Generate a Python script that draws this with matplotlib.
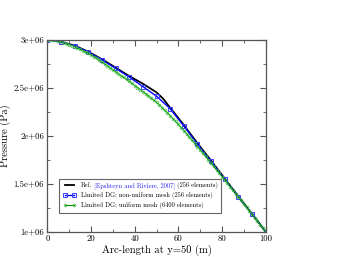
import matplotlib
matplotlib.use("Agg")
import matplotlib.pyplot as plt
from matplotlib.ticker import FixedLocator, FixedFormatter, MultipleLocator
from matplotlib.offsetbox import TextArea, HPacker

plt.rcParams['font.family'] = 'serif'
plt.rcParams['font.serif'] = ['cmr10', 'DejaVu Serif']
plt.rcParams['mathtext.fontset'] = 'cm'
plt.rcParams['axes.unicode_minus'] = False
plt.rcParams['axes.formatter.use_mathtext'] = True

# Reference solution (Epshteyn and Riviere, 2007)
ref_x = [0, 6.25, 12.5, 18.75, 25, 31.25, 37.5, 43.75, 50, 53, 56.25,
         62.5, 68.75, 75, 81.25, 87.5, 93.75, 100]
ref_p = [3.0e6, 2.977e6, 2.937e6, 2.873e6, 2.795e6, 2.707e6, 2.62e6, 2.54e6,
         2.45e6, 2.385e6, 2.29e6, 2.11e6, 1.92e6, 1.74e6, 1.553e6, 1.366e6,
         1.185e6, 1.0e6]

# Limited DG, non-uniform mesh (256 elements)
nu_x = [0, 6.25, 12.5, 18.75, 25, 31.25, 37.5, 43.75, 50, 56.25,
        62.5, 68.75, 75, 81.25, 87.5, 93.75, 100]
nu_p = [3.0e6, 2.975e6, 2.935e6, 2.87e6, 2.79e6, 2.70e6, 2.61e6, 2.51e6,
        2.41e6, 2.28e6, 2.10e6, 1.91e6, 1.73e6, 1.545e6, 1.36e6, 1.185e6, 1.0e6]

# Limited DG, uniform mesh (6400 elements)
un_x = [0, 1.25, 2.5, 3.75, 5, 6.25, 7.5, 8.75, 10, 11.25, 12.5, 13.75, 15,
        16.25, 17.5, 18.75, 20, 21.25, 22.5, 23.75, 25, 26.25, 27.5, 28.75,
        30, 31.25, 32.5, 33.75, 35, 36.25, 37.5, 38.75, 40, 41.25, 42.5,
        43.75, 45, 46.25, 47.5, 48.75, 50, 51.25, 52.5, 53.75, 55, 56.25,
        57.5, 58.75, 60, 61.25, 62.5, 63.75, 65, 66.25, 67.5, 68.75, 70,
        71.25, 72.5, 73.75, 75, 76.25, 77.5, 78.75, 80, 81.25, 82.5, 83.75,
        85, 86.25, 87.5, 88.75, 90, 91.25, 92.5, 93.75, 95, 96.25, 97.5,
        98.75, 100]
un_p = [3.000e6, 2.999e6, 2.995e6, 2.991e6, 2.985e6, 2.977e6, 2.968e6,
        2.958e6, 2.948e6, 2.937e6, 2.925e6, 2.912e6, 2.898e6, 2.884e6,
        2.870e6, 2.855e6, 2.840e6, 2.822e6, 2.803e6, 2.784e6, 2.765e6,
        2.745e6, 2.725e6, 2.705e6, 2.685e6, 2.665e6, 2.645e6, 2.625e6,
        2.605e6, 2.585e6, 2.565e6, 2.543e6, 2.521e6, 2.500e6, 2.479e6,
        2.458e6, 2.436e6, 2.414e6, 2.391e6, 2.368e6, 2.345e6, 2.319e6,
        2.292e6, 2.264e6, 2.236e6, 2.207e6, 2.177e6, 2.147e6, 2.116e6,
        2.084e6, 2.052e6, 2.019e6, 1.986e6, 1.953e6, 1.919e6, 1.885e6,
        1.851e6, 1.817e6, 1.782e6, 1.748e6, 1.713e6, 1.678e6, 1.643e6,
        1.608e6, 1.573e6, 1.538e6, 1.502e6, 1.467e6, 1.431e6, 1.396e6,
        1.360e6, 1.324e6, 1.288e6, 1.252e6, 1.216e6, 1.180e6, 1.144e6,
        1.108e6, 1.072e6, 1.036e6, 1.000e6]

ytick_vals = [1.0e6, 1.5e6, 2.0e6, 2.5e6, 3.0e6]
ytick_labels = ['1e+06', '1.5e+06', '2e+06', '2.5e+06', '3e+06']
xtick_vals = [0, 20, 40, 60, 80, 100]
xtick_labels = ['0', '20', '40', '60', '80', '100']

fig = plt.figure(figsize=(3.49, 2.57), dpi=100)
ax = fig.add_axes([0.136, 0.099, 0.625, 0.747])

ax.plot(ref_x, ref_p, color='black', lw=1.3, label='Ref.')
ax.plot(nu_x, nu_p, color='#0000ff', lw=1.0, marker='s', markersize=3.4,
        markerfacecolor='none', markeredgecolor='#3b3bff', markeredgewidth=0.7,
        label='Limited DG; non-uniform mesh (256 elements)')
ax.plot(un_x, un_p, color='#008a00', lw=0.8, marker='o', markersize=2.0,
        markerfacecolor='none', markeredgecolor='#44c044', markeredgewidth=0.5,
        label='Limited DG; uniform mesh (6400 elements)')

ax.set_xlim(0, 100)
ax.set_ylim(1.0e6, 3.0e6)
ax.xaxis.set_major_locator(FixedLocator(xtick_vals))
ax.xaxis.set_major_formatter(FixedFormatter(xtick_labels))
ax.xaxis.set_minor_locator(MultipleLocator(10))
ax.yaxis.set_major_locator(FixedLocator(ytick_vals))
ax.yaxis.set_major_formatter(FixedFormatter(ytick_labels))
ax.yaxis.set_minor_locator(MultipleLocator(0.25e6))

ax.tick_params(which='both', direction='in', top=True, right=True,
               colors='#555555', labelcolor='black', labelsize=6.3, pad=2.5)
ax.tick_params(which='major', length=4, width=0.8)
ax.tick_params(which='minor', length=2, width=0.6)
for s in ax.spines.values():
    s.set_color('#555555')
    s.set_linewidth(0.9)

ax.set_xlabel('Arc-length at y=50 (m)', fontsize=7.6, labelpad=1)
ax.set_ylabel('Pressure (Pa)', fontsize=7.6)
ax.yaxis.set_label_coords(-0.165, 0.5)

leg = ax.legend(loc='lower left', bbox_to_anchor=(0.04, 0.08), fontsize=4.6,
                frameon=True, fancybox=False, edgecolor='#666666',
                framealpha=1, handlelength=2.0, handletextpad=0.8,
                borderpad=0.55, labelspacing=0.5, numpoints=2)
leg.get_frame().set_linewidth(0.8)

# Build mixed-colour first legend label
item = leg._legend_handle_box.get_children()[0].get_children()[0]
children = item.get_children()
tp = dict(fontsize=4.6, family='serif')
first = HPacker(children=[
    TextArea('Ref.', textprops=dict(color='black', **tp)),
    TextArea(' [Epshteyn and Riviere, 2007]', textprops=dict(color='#2222ee', **tp)),
    TextArea(' (256 elements)', textprops=dict(color='black', **tp)),
], sep=0, pad=0, align='baseline')
first.set_figure(fig)
for c in first.get_children():
    c.set_figure(fig)
children[1] = first

fig.savefig('out.png', dpi=100)
